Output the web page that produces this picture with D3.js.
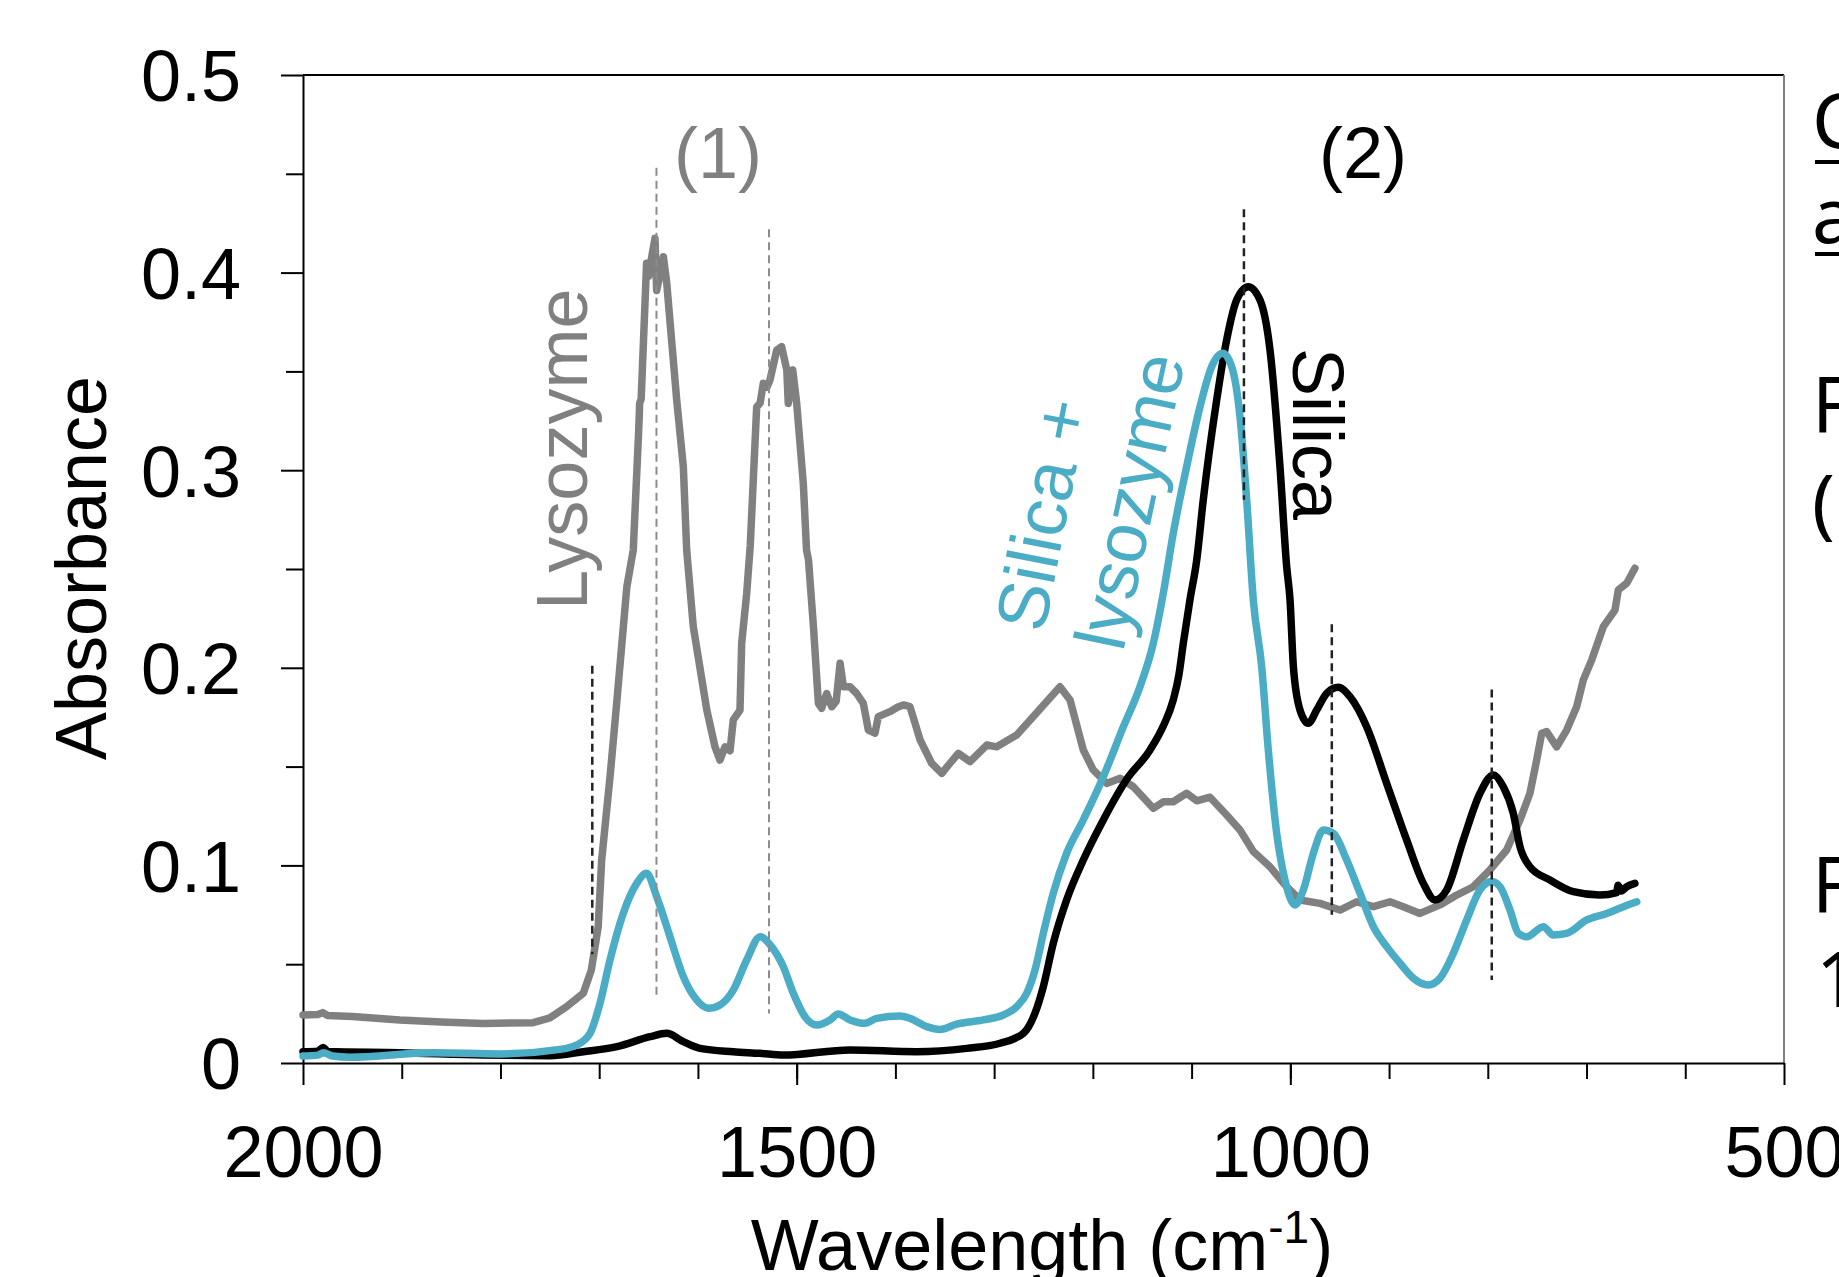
<html>
  <head>
    <style>
      body {
        margin: 0;
        background: #fff;
      }
      svg {
        font-family: "Liberation Sans", Arial, Helvetica, sans-serif;
      }
      .axis path,
      .axis line {
        stroke: #000;
        stroke-width: 2px;
      }
      .axis text {
        font-size: 72px;
        fill: #000;
      }
      .spectrum {
        fill: none;
        stroke-width: 7.5px;
        stroke-linejoin: round;
        stroke-linecap: round;
      }
      .label {
        font-size: 72px;
      }
    </style>
  </head>
  <body>
    <script src="https://d3js.org/d3.v7.min.js"></script>
    <script>
      // lysozyme (grey)
      const lysozymeWn = [2000, 1985, 1980, 1975, 1950, 1902, 1860, 1818, 1767, 1750, 1733, 1716, 1708, 1701, 1697.5, 1689, 1682, 1677, 1672, 1665.5, 1660, 1659, 1657.5, 1652, 1650, 1646.8, 1643.5, 1641.8, 1638, 1635, 1631.6, 1621.5, 1614.8, 1611.4, 1604.7, 1591, 1582.7, 1577.7, 1572.6, 1567.5, 1564.2, 1557.4, 1555.7, 1550.6, 1547, 1540.5, 1537, 1533.8, 1530, 1527, 1520.2, 1515.2, 1510, 1508.5, 1504, 1500, 1493.3, 1490, 1488, 1483, 1478, 1474.7, 1469.6, 1464.5, 1460, 1456, 1452.7, 1446, 1439.2, 1432.5, 1427.4, 1420.7, 1417.3, 1405.5, 1398, 1392, 1385.2, 1375, 1363.3, 1353, 1344.7, 1336.3, 1324.4, 1307.5, 1297.4, 1277.1, 1260.3, 1233.3, 1223.1, 1209.7, 1199.6, 1186, 1172.5, 1159, 1138.8, 1128.7, 1118.6, 1105, 1094.8, 1081.4, 1064.5, 1051, 1037.5, 1020.6, 1003.7, 990.2, 970, 949.7, 932.8, 915.9, 899, 885.6, 868.7, 848.4, 831.5, 814.7, 797.8, 780.9, 767.4, 757.3, 750.5, 745.4, 740.4, 730.2, 720.1, 710, 703.3, 694.8, 683, 671.2, 667.8, 659.3, 651];
      const lysozymeAbs = [0.0243, 0.0245, 0.0255, 0.024, 0.0235, 0.0218, 0.0208, 0.02, 0.0204, 0.0228, 0.0285, 0.0354, 0.047, 0.069, 0.1027, 0.145, 0.1837, 0.2125, 0.241, 0.2596, 0.32, 0.334, 0.336, 0.4047, 0.398, 0.408, 0.4173, 0.391, 0.4, 0.408, 0.3947, 0.3355, 0.3018, 0.2596, 0.2208, 0.1786, 0.16, 0.1533, 0.16, 0.158, 0.1736, 0.1786, 0.2124, 0.2377, 0.262, 0.332, 0.334, 0.344, 0.342, 0.3457, 0.3608, 0.3625, 0.3507, 0.3338, 0.3507, 0.334, 0.2934, 0.2596, 0.2545, 0.2208, 0.182, 0.1795, 0.187, 0.1803, 0.183, 0.2023, 0.1904, 0.1904, 0.187, 0.182, 0.1685, 0.1669, 0.1753, 0.1778, 0.18, 0.1812, 0.1803, 0.1635, 0.1517, 0.1466, 0.1517, 0.1567, 0.1525, 0.1609, 0.16, 0.166, 0.1753, 0.1904, 0.1837, 0.1584, 0.1483, 0.1415, 0.1441, 0.1398, 0.1289, 0.1322, 0.1322, 0.1365, 0.1327, 0.1345, 0.1255, 0.1179, 0.107, 0.0993, 0.0892, 0.0825, 0.0808, 0.0774, 0.0816, 0.0791, 0.0816, 0.0791, 0.0757, 0.08, 0.085, 0.0892, 0.0977, 0.1078, 0.123, 0.1365, 0.1533, 0.1669, 0.1677, 0.16, 0.1685, 0.1803, 0.1938, 0.2039, 0.2208, 0.2292, 0.2394, 0.2428, 0.2504];

      // silica (black)
      const silicaWn = [2000, 1985, 1979.4, 1975, 1902, 1817, 1750, 1716, 1682, 1648.5, 1631.6, 1614.8, 1597.9, 1564.2, 1537, 1513.5, 1446, 1378.5, 1327.8, 1294, 1270.4, 1258.6, 1250.2, 1240.1, 1226.6, 1209.7, 1189.4, 1166.2, 1142.1, 1128.7, 1118.6, 1113, 1108.4, 1101.7, 1094.8, 1088.2, 1074.6, 1064.5, 1054.4, 1042.6, 1030.7, 1020.6, 1010.5, 1003.7, 1000.3, 996.9, 990.2, 981.8, 973.3, 963.2, 951.4, 939.6, 922.7, 902.4, 882.2, 865.3, 853.5, 841.6, 824.8, 807.9, 794.4, 784.3, 774.2, 767.4, 757.3, 737, 713.4, 686.4, 669.5, 668, 665, 659.3, 651];
      const silicaAbs = [0.0057, 0.006, 0.0079, 0.0058, 0.0052, 0.004, 0.0037, 0.0057, 0.0083, 0.0133, 0.015, 0.0108, 0.0074, 0.0057, 0.0049, 0.004, 0.0066, 0.0057, 0.0074, 0.01, 0.015, 0.0252, 0.0386, 0.0606, 0.0825, 0.1027, 0.123, 0.1432, 0.1584, 0.1705, 0.1837, 0.196, 0.2124, 0.2343, 0.2546, 0.2849, 0.3355, 0.3659, 0.3861, 0.3929, 0.3861, 0.3608, 0.3018, 0.2512, 0.2343, 0.2005, 0.1786, 0.1719, 0.1786, 0.1871, 0.1901, 0.1854, 0.1702, 0.1415, 0.1129, 0.0909, 0.0825, 0.0876, 0.1129, 0.1365, 0.1458, 0.1398, 0.1264, 0.1095, 0.0993, 0.0926, 0.0867, 0.085, 0.0862, 0.09, 0.087, 0.0892, 0.0909];

      // silica + lysozyme (blue)
      const mixWn = [2000, 1985, 1979.4, 1970, 1952.4, 1868, 1800.5, 1739.7, 1722.8, 1709.3, 1699.2, 1689.1, 1675.6, 1662, 1651.9, 1641.8, 1628.3, 1614.8, 1601.3, 1589.5, 1577.7, 1564.2, 1550.6, 1537, 1526.8, 1513.5, 1503.4, 1491.6, 1479.7, 1466.2, 1457.8, 1446, 1430.8, 1419, 1395.3, 1385.2, 1368.3, 1354.8, 1337.9, 1311, 1290.7, 1277.1, 1267, 1258.6, 1250.2, 1240.1, 1226.6, 1209.7, 1189.4, 1169.1, 1152.3, 1138.8, 1128.7, 1118.6, 1105, 1091.5, 1079.7, 1068.5, 1059.4, 1051, 1044.2, 1037.5, 1029, 1022.3, 1013.8, 1005.4, 995.3, 986.8, 976.7, 966.5, 956.4, 942.9, 929.4, 915.9, 902.4, 888.9, 875.4, 860.2, 848.4, 834.9, 821.4, 807.9, 796, 787.6, 777.5, 769, 760.6, 743.7, 733.6, 720.1, 699.8, 679.5, 662.6, 649.1];
      const mixAbs = [0.0035, 0.004, 0.0052, 0.0035, 0.0029, 0.0052, 0.0046, 0.0069, 0.0091, 0.015, 0.0302, 0.0521, 0.0758, 0.0909, 0.096, 0.0842, 0.0639, 0.0437, 0.0319, 0.0277, 0.0294, 0.0369, 0.0521, 0.0639, 0.0597, 0.0487, 0.0353, 0.0234, 0.0192, 0.0218, 0.0248, 0.0218, 0.0201, 0.0226, 0.0238, 0.0226, 0.0184, 0.017, 0.0197, 0.0218, 0.0243, 0.0285, 0.0353, 0.0471, 0.0656, 0.0859, 0.1061, 0.123, 0.1449, 0.1702, 0.1904, 0.2124, 0.2377, 0.268, 0.3018, 0.3321, 0.3524, 0.3592, 0.3524, 0.3271, 0.2849, 0.2343, 0.2005, 0.1584, 0.1162, 0.0926, 0.08, 0.0876, 0.1061, 0.1179, 0.1162, 0.1027, 0.0859, 0.069, 0.0589, 0.0505, 0.0429, 0.0395, 0.0429, 0.0555, 0.0724, 0.0876, 0.0918, 0.0892, 0.0774, 0.0656, 0.0639, 0.069, 0.0648, 0.0656, 0.0724, 0.0757, 0.0791, 0.0816];

      // dashed peak markers
      const markerWn = [1707, 1642, 1528, 1047, 958, 796];
      const markerTop = [0.201, 0.453, 0.422, 0.432, 0.222, 0.189];
      const markerBottom = [0.055, 0.032, 0.025, 0.285, 0.075, 0.042];
      const markerGrey = [false, true, true, false, false, false];

      const xTicks = [2000, 1500, 1000, 500];
      const yTicks = [0, 0.1, 0.2, 0.3, 0.4, 0.5];

      const width = 1839,
        height = 1277;
      const plot = { left: 303, right: 1784, top: 75, bottom: 1063 };

      const x = d3.scaleLinear().domain([2000, 500]).range([plot.left, plot.right]);
      const y = d3.scaleLinear().domain([0, 0.5]).range([plot.bottom, plot.top]);

      const svg = d3
        .select("body")
        .append("svg")
        .attr("width", width)
        .attr("height", height);

      // frame (top + right)
      svg
        .append("line")
        .attr("x1", plot.left)
        .attr("x2", plot.right)
        .attr("y1", plot.top)
        .attr("y2", plot.top)
        .attr("stroke", "#000")
        .attr("stroke-width", 2);
      svg
        .append("line")
        .attr("x1", plot.right)
        .attr("x2", plot.right)
        .attr("y1", plot.top)
        .attr("y2", plot.bottom)
        .attr("stroke", "#7f7f7f")
        .attr("stroke-width", 2);

      // minor ticks
      svg
        .append("g")
        .attr("class", "axis")
        .attr("transform", `translate(${plot.left},0)`)
        .call(
          d3.axisLeft(y).tickValues(d3.range(0.05, 0.5, 0.1)).tickSize(17).tickFormat("")
        )
        .call((g) => g.select(".domain").remove());
      svg
        .append("g")
        .attr("class", "axis")
        .attr("transform", `translate(0,${plot.bottom})`)
        .call(
          d3.axisBottom(x).tickValues(d3.range(1900, 500, -100)).tickSize(16).tickFormat("")
        )
        .call((g) => g.select(".domain").remove());

      // major ticks + labels
      svg
        .append("g")
        .attr("class", "axis")
        .attr("transform", `translate(${plot.left},0)`)
        .call(
          d3.axisLeft(y).tickValues(yTicks).tickSize(22).tickSizeOuter(0).tickPadding(40).tickFormat((d) => (d === 0 ? "0" : d3.format(".1f")(d)))
        )
        .call((g) => g.selectAll("text").attr("dy", "0.36em"));
      svg
        .append("g")
        .attr("class", "axis")
        .attr("transform", `translate(0,${plot.bottom})`)
        .call(d3.axisBottom(x).tickValues(xTicks).tickSize(22).tickSizeOuter(0).tickPadding(41).tickFormat(d3.format("d")));

      // spectra
      const lineOf = (wn, ab, curve) =>
        d3
          .line()
          .x((d, i) => x(wn[i]))
          .y((d, i) => y(ab[i]))
          .curve(curve)(wn);

      svg
        .append("path")
        .attr("class", "spectrum")
        .attr("stroke", "#808080")
        .attr("d", lineOf(lysozymeWn, lysozymeAbs, d3.curveLinear));
      svg
        .append("path")
        .attr("class", "spectrum")
        .attr("stroke", "#000")
        .attr("d", lineOf(silicaWn, silicaAbs, d3.curveMonotoneX));
      svg
        .append("path")
        .attr("class", "spectrum")
        .attr("stroke", "#4bacc6")
        .attr("d", lineOf(mixWn, mixAbs, d3.curveMonotoneX));

      // dashed markers
      markerWn.forEach((wn, i) => {
        svg
          .append("line")
          .attr("x1", x(wn))
          .attr("x2", x(wn))
          .attr("y1", y(markerTop[i]))
          .attr("y2", y(markerBottom[i]))
          .attr("stroke", markerGrey[i] ? "#8c8c8c" : "#222")
          .attr("stroke-width", markerGrey[i] ? 2 : 2.5)
          .attr("stroke-dasharray", "8,5");
      });

      // annotations
      svg.append("text").attr("class", "label").attr("x", 718).attr("y", 178).attr("text-anchor", "middle").attr("fill", "#808080").text("(1)");
      svg.append("text").attr("class", "label").attr("x", 1363).attr("y", 178).attr("text-anchor", "middle").attr("fill", "#000").text("(2)");
      svg.append("text").attr("class", "label").attr("transform", "translate(587,610) rotate(-90)").attr("fill", "#808080").text("Lysozyme");
      svg.append("text").attr("class", "label").attr("transform", "translate(1044,634) rotate(-79)").attr("fill", "#4bacc6").text("Silica +");
      svg.append("text").attr("class", "label").attr("transform", "translate(1123,653) rotate(-78)").attr("fill", "#4bacc6").text("lysozyme");
      svg.append("text").attr("class", "label").attr("transform", "translate(1293,348) rotate(90)").attr("fill", "#000").text("Silica");

      // axis titles
      svg.append("text").attr("class", "label").attr("transform", "translate(106,568) rotate(-90)").attr("text-anchor", "middle").text("Absorbance");
      const xt = svg.append("text").attr("class", "label").attr("x", 1042).attr("y", 1270).attr("text-anchor", "middle");
      xt.append("tspan").text("Wavelength (cm");
      xt.append("tspan").attr("font-size", 46).attr("dy", -27).text("-1");
      xt.append("tspan").attr("dy", 27).text(")");

      // clipped side text at the right edge
      const side = svg.append("g").attr("font-family", "'Noto Sans', sans-serif").attr("font-size", 76);
      side.append("text").attr("x", 1812).attr("y", 148).text("C");
      side.append("text").attr("x", 1812).attr("y", 243).text("a");
      side.append("line").attr("x1", 1815).attr("x2", width).attr("y1", 162).attr("y2", 162).attr("stroke", "#000").attr("stroke-width", 4);
      side.append("line").attr("x1", 1815).attr("x2", width).attr("y1", 254).attr("y2", 254).attr("stroke", "#000").attr("stroke-width", 4);
      side.append("text").attr("x", 1812).attr("y", 432).text("F");
      side.append("text").attr("x", 1812).attr("y", 530).text("(");
      side.append("text").attr("x", 1812).attr("y", 912).text("F");
      side.append("text").attr("x", 1816).attr("y", 1007).text("1");
    </script>
  </body>
</html>
